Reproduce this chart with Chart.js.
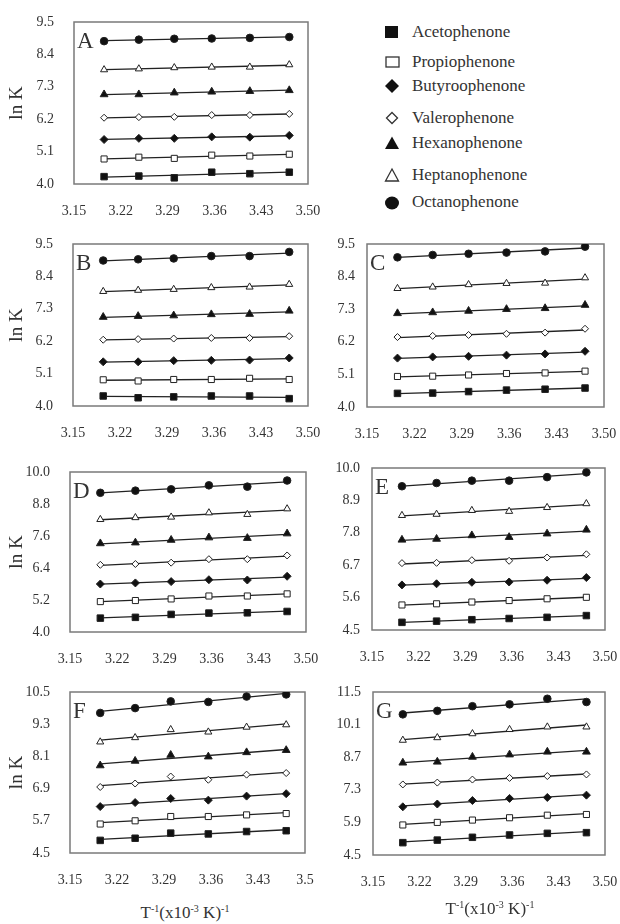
<!DOCTYPE html>
<html>
<head>
<meta charset="utf-8">
<script src="https://cdn.jsdelivr.net/npm/chart.js@4.4.1/dist/chart.umd.min.js"></script>
<style>
  body { margin: 0; background: #fff; font-family: "Liberation Serif", "Times New Roman", serif; }
  #page { position: relative; width: 620px; height: 924px; overflow: hidden; }
  .panel { position: absolute; }
  .legend-row { position: absolute; left: 382px; height: 22px; line-height: 22px; font-size: 17px; color: #333; white-space: nowrap; }
  .legend-row svg { position: absolute; left: 0; top: 3px; }
  .legend-row span { position: absolute; left: 30px; top: 0; }
  .xtitle { position: absolute; font-size: 17px; color: #333; white-space: nowrap; transform: translateX(-50%); }
  .xtitle sup { font-size: 10px; vertical-align: 6px; line-height: 0; }
</style>
</head>
<body>
<div id="page"></div>
<script>
// x = 1/T (x10^-3 K^-1), one point per temperature
const INV_T = [3.195, 3.247, 3.300, 3.356, 3.413, 3.472];
const X_TICKS = [3.15, 3.22, 3.29, 3.36, 3.43, 3.50];
const X_LABELS = ['3.15', '3.22', '3.29', '3.36', '3.43', '3.50'];
const X_LABELS_F = ['3.15', '3.22', '3.29', '3.36', '3.43', '3.5'];

const SOLUTES = ['Acetophenone', 'Propiophenone', 'Butyroophenone', 'Valerophenone',
                 'Hexanophenone', 'Heptanophenone', 'Octanophenone'];

// y tick labels per panel
const Y_TICKS_A = [4.0, 5.1, 6.2, 7.3, 8.4, 9.5];
const Y_TICKS_B = [4.0, 5.1, 6.2, 7.3, 8.4, 9.5];
const Y_TICKS_C = [4.0, 5.1, 6.2, 7.3, 8.4, 9.5];
const Y_TICKS_D = [4.0, 5.2, 6.4, 7.6, 8.8, 10.0];
const Y_TICKS_E = [4.5, 5.6, 6.7, 7.8, 8.9, 10.0];
const Y_TICKS_F = [4.5, 5.7, 6.9, 8.1, 9.3, 10.5];
const Y_TICKS_G = [4.5, 5.9, 7.3, 8.7, 10.1, 11.5];

// ln K, rows in SOLUTES order, columns in INV_T order
const lnK_A = [
  [4.25, 4.27, 4.21, 4.40, 4.35, 4.40],
  [4.85, 4.91, 4.87, 4.98, 4.95, 5.01],
  [5.51, 5.55, 5.55, 5.60, 5.59, 5.65],
  [6.25, 6.27, 6.28, 6.34, 6.34, 6.38],
  [7.04, 7.04, 7.10, 7.13, 7.15, 7.18],
  [7.88, 7.91, 7.95, 7.97, 7.97, 8.05],
  [8.85, 8.90, 8.93, 8.94, 8.96, 8.99]
];
const lnK_B = [
  [4.34, 4.28, 4.31, 4.34, 4.34, 4.25],
  [4.89, 4.85, 4.90, 4.90, 4.94, 4.90],
  [5.50, 5.50, 5.54, 5.55, 5.56, 5.63],
  [6.25, 6.27, 6.29, 6.31, 6.31, 6.37],
  [7.02, 7.05, 7.07, 7.11, 7.12, 7.23],
  [7.89, 7.93, 7.96, 8.02, 8.04, 8.13],
  [8.94, 8.98, 9.01, 9.09, 9.09, 9.23]
];
const lnK_C = [
  [4.46, 4.47, 4.52, 4.57, 4.60, 4.64],
  [5.03, 5.04, 5.08, 5.13, 5.15, 5.21],
  [5.65, 5.69, 5.71, 5.75, 5.79, 5.88],
  [6.36, 6.40, 6.43, 6.47, 6.51, 6.64],
  [7.16, 7.19, 7.24, 7.30, 7.33, 7.44],
  [8.00, 8.05, 8.13, 8.17, 8.18, 8.36],
  [9.05, 9.13, 9.17, 9.21, 9.25, 9.41]
];
const lnK_D = [
  [4.52, 4.55, 4.66, 4.71, 4.72, 4.77],
  [5.14, 5.18, 5.24, 5.35, 5.35, 5.43],
  [5.80, 5.84, 5.89, 5.96, 5.95, 6.09],
  [6.52, 6.55, 6.60, 6.73, 6.73, 6.87],
  [7.32, 7.35, 7.45, 7.54, 7.52, 7.69],
  [8.22, 8.29, 8.31, 8.47, 8.41, 8.62],
  [9.22, 9.30, 9.35, 9.50, 9.45, 9.68]
];
const lnK_E = [
  [4.76, 4.80, 4.85, 4.89, 4.93, 4.99],
  [5.35, 5.39, 5.45, 5.50, 5.56, 5.61],
  [6.03, 6.07, 6.12, 6.13, 6.19, 6.28],
  [6.77, 6.78, 6.87, 6.85, 6.96, 7.07],
  [7.56, 7.59, 7.71, 7.65, 7.77, 7.90],
  [8.39, 8.43, 8.56, 8.53, 8.66, 8.79],
  [9.38, 9.49, 9.57, 9.57, 9.69, 9.85]
];
const lnK_F = [
  [4.97, 5.05, 5.24, 5.21, 5.30, 5.33],
  [5.58, 5.70, 5.86, 5.86, 5.92, 5.97],
  [6.23, 6.38, 6.53, 6.47, 6.62, 6.71],
  [6.96, 7.09, 7.35, 7.23, 7.42, 7.48],
  [7.76, 7.93, 8.15, 8.09, 8.25, 8.33],
  [8.64, 8.80, 9.10, 9.01, 9.19, 9.28],
  [9.72, 9.90, 10.15, 10.13, 10.33, 10.41]
];
const lnK_G = [
  [5.03, 5.14, 5.26, 5.36, 5.43, 5.46],
  [5.79, 5.90, 6.00, 6.10, 6.21, 6.24],
  [6.57, 6.69, 6.84, 6.93, 6.97, 7.07],
  [7.53, 7.61, 7.74, 7.81, 7.89, 7.96],
  [8.46, 8.50, 8.71, 8.81, 8.93, 8.93],
  [9.43, 9.54, 9.71, 9.89, 10.00, 10.00],
  [10.54, 10.69, 10.89, 10.97, 11.21, 11.07]
];

const FONT = '"Liberation Serif", "Times New Roman", serif';
const INK = '#222';

// marker look per solute (same order as SOLUTES)
const MARKERS = [
  { style: 'rect', fill: '#111', r: 4.6 },
  { style: 'rect', fill: '#fff', r: 4.3 },
  { style: 'rectRot', fill: '#111', r: 4 },
  { style: 'rectRot', fill: '#fff', r: 3.5 },
  { style: 'triangle', fill: '#111', r: 4.5 },
  { style: 'triangle', fill: '#fff', r: 4.1 },
  { style: 'circle', fill: '#111', r: 3.8 }
];

// box = plot area [left, top, right, bottom] on the page
const PANELS = [
  { letter: 'A', rows: lnK_A, yTicks: Y_TICKS_A, xLabels: X_LABELS, col: 0, box: [74, 22, 308, 184], yTitle: true },
  { letter: 'B', rows: lnK_B, yTicks: Y_TICKS_B, xLabels: X_LABELS, col: 0, box: [73, 244, 308, 406], yTitle: true },
  { letter: 'C', rows: lnK_C, yTicks: Y_TICKS_C, xLabels: X_LABELS, col: 1, box: [367, 244, 604, 407], yTitle: false },
  { letter: 'D', rows: lnK_D, yTicks: Y_TICKS_D, xLabels: X_LABELS, col: 0, box: [70, 472, 306, 632], yTitle: true },
  { letter: 'E', rows: lnK_E, yTicks: Y_TICKS_E, xLabels: X_LABELS, col: 1, box: [372, 468, 605, 630], yTitle: false },
  { letter: 'F', rows: lnK_F, yTicks: Y_TICKS_F, xLabels: X_LABELS_F, col: 0, box: [70, 692, 305, 853], yTitle: true },
  { letter: 'G', rows: lnK_G, yTicks: Y_TICKS_G, xLabels: X_LABELS, col: 1, box: [373, 692, 605, 855], yTitle: false }
];

// least squares line through one series
function fitLine(xs, ys) {
  const n = xs.length;
  const mx = xs.reduce((a, b) => a + b, 0) / n;
  const my = ys.reduce((a, b) => a + b, 0) / n;
  let sxy = 0, sxx = 0;
  for (let i = 0; i < n; i++) {
    sxy += (xs[i] - mx) * (ys[i] - my);
    sxx += (xs[i] - mx) * (xs[i] - mx);
  }
  const k = sxy / sxx;
  return x => my + k * (x - mx);
}

// frame around the plot area + panel letter
const panelFrame = {
  id: 'panelFrame',
  beforeDatasetsDraw(chart, args, opts) {
    const { ctx, chartArea: a } = chart;
    ctx.save();
    ctx.strokeStyle = '#7a7a7a';
    ctx.lineWidth = 1.5;
    ctx.strokeRect(a.left, a.top, a.right - a.left, a.bottom - a.top);
    ctx.fillStyle = '#333';
    ctx.font = '23px ' + FONT;
    ctx.textBaseline = 'alphabetic';
    ctx.fillText(opts.letter, a.left + 3, a.top + 26);
    ctx.restore();
  }
};

function makePanel(p) {
  const page = document.getElementById('page');
  const [L, T, R, B] = p.box;
  const cLeft = p.col === 0 ? 0 : 318;
  const yw = L - cLeft;
  const padTop = 12, padRight = 16, xh = 40;
  const w = R - cLeft + padRight;
  const h = B - T + padTop + xh;

  const div = document.createElement('div');
  div.className = 'panel';
  div.style.left = cLeft + 'px';
  div.style.top = (T - padTop) + 'px';
  const canvas = document.createElement('canvas');
  canvas.width = w;
  canvas.height = h;
  canvas.style.width = w + 'px';
  canvas.style.height = h + 'px';
  div.appendChild(canvas);
  page.appendChild(div);

  const datasets = [];
  p.rows.forEach((ys, i) => {
    const m = MARKERS[i];
    datasets.push({
      label: SOLUTES[i],
      data: INV_T.map((x, j) => ({ x, y: ys[j] })),
      showLine: false,
      pointStyle: m.style,
      pointRadius: m.r,
      pointBackgroundColor: m.fill,
      pointBorderColor: INK,
      pointBorderWidth: 1,
      order: 0
    });
  });
  p.rows.forEach((ys, i) => {
    const f = fitLine(INV_T, ys);
    const x0 = INV_T[0], x1 = INV_T[INV_T.length - 1];
    datasets.push({
      label: SOLUTES[i] + ' fit',
      data: [{ x: x0, y: f(x0) }, { x: x1, y: f(x1) }],
      showLine: true,
      borderColor: INK,
      borderWidth: 1.3,
      pointRadius: 0,
      order: 1
    });
  });

  const tickFont = { family: FONT, size: 14 };
  return new Chart(canvas.getContext('2d'), {
    type: 'scatter',
    data: { datasets },
    plugins: [panelFrame],
    options: {
      responsive: false,
      animation: false,
      events: [],
      layout: { padding: { left: 0, top: padTop, right: padRight, bottom: 0 } },
      plugins: {
        legend: { display: false },
        tooltip: { enabled: false },
        panelFrame: { letter: p.letter }
      },
      scales: {
        x: {
          type: 'linear',
          min: X_TICKS[0],
          max: X_TICKS[X_TICKS.length - 1],
          grid: { display: false, drawTicks: false },
          border: { display: false },
          afterBuildTicks: s => { s.ticks = X_TICKS.map(v => ({ value: v })); },
          // fixed axis size, no extra padding for overhanging labels
          afterFit: s => { s.height = xh; s.paddingLeft = 0; s.paddingRight = 0; },
          ticks: {
            autoSkip: false, maxRotation: 0, padding: 19,
            color: '#333', font: tickFont,
            callback: (v, i) => p.xLabels[i]
          }
        },
        y: {
          type: 'linear',
          min: p.yTicks[0],
          max: p.yTicks[p.yTicks.length - 1],
          grid: { display: false, drawTicks: false },
          border: { display: false },
          afterBuildTicks: s => { s.ticks = p.yTicks.map(v => ({ value: v })); },
          afterFit: s => { s.width = yw; s.paddingTop = 0; s.paddingBottom = 0; },
          ticks: {
            autoSkip: false, padding: p.col === 0 ? 20 : 12,
            color: '#333', font: tickFont,
            callback: v => v.toFixed(1)
          },
          title: {
            display: p.yTitle, text: 'ln K', color: '#333',
            font: { family: FONT, size: 19 }, padding: { top: 6, bottom: 0 }
          }
        }
      }
    }
  });
}

PANELS.forEach(makePanel);

// legend (top right)
const LEGEND_Y = [21, 51, 75, 107, 132, 164, 191];
const LEGEND_SVG = [
  '<rect x="3" y="2" width="13" height="12" fill="#111"/>',
  '<rect x="4" y="3" width="13" height="10" fill="#fff" stroke="#333" stroke-width="1.3"/>',
  '<polygon points="10,1 17,8 10,15 3,8" fill="#111"/>',
  '<polygon points="10,2.5 15.5,8 10,13.5 4.5,8" fill="#fff" stroke="#333" stroke-width="1.3"/>',
  '<polygon points="10,1.5 17,14 3,14" fill="#111"/>',
  '<polygon points="10,2 16.5,14 3.5,14" fill="#fff" stroke="#333" stroke-width="1.3"/>',
  '<ellipse cx="10" cy="9" rx="7" ry="6.5" fill="#111"/>'
];
SOLUTES.forEach((name, i) => {
  const row = document.createElement('div');
  row.className = 'legend-row';
  row.style.top = LEGEND_Y[i] + 'px';
  row.innerHTML = '<svg width="20" height="17">' + LEGEND_SVG[i] + '</svg><span>' + name + '</span>';
  document.getElementById('page').appendChild(row);
});

// x axis titles under F and G
[[185, 903], [490, 899]].forEach(([cx, top]) => {
  const t = document.createElement('div');
  t.className = 'xtitle';
  t.style.left = cx + 'px';
  t.style.top = top + 'px';
  t.innerHTML = 'T<sup>-1</sup>(x10<sup>-3</sup> K)<sup>-1</sup>';
  document.getElementById('page').appendChild(t);
});
</script>
</body>
</html>
